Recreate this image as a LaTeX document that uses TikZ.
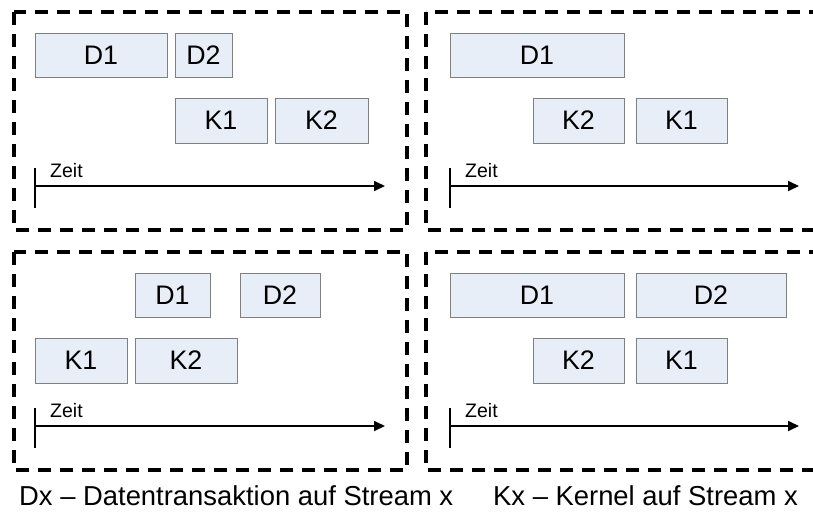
\documentclass[tikz,border=0pt]{standalone}
\usepackage{fontspec}
\setmainfont{Liberation Sans}
\usetikzlibrary{arrows.meta}

\definecolor{blkfill}{RGB}{232,238,247}
\definecolor{blkline}{RGB}{128,128,128}

\tikzset{
  blk/.style={draw=blkline, fill=blkfill, line width=1pt, inner sep=0pt,
              font=\fontsize{26.8}{30}\selectfont},
  frame/.style={draw=black, line width=3.2pt, dash pattern=on 13pt off 9pt},
  timeaxis/.style={line width=1.7pt, -{Triangle[length=11pt,width=10pt]}},
  tick/.style={line width=1.7pt},
  zeit/.style={anchor=base west, inner sep=0pt, font=\fontsize{19.5}{22}\selectfont},
  legend/.style={anchor=base west, inner sep=0pt, font=\fontsize{27.4}{32}\selectfont},
}

\begin{document}
\begin{tikzpicture}[x=1pt, y=-1pt]
\useasboundingbox (0,0) rectangle (813,512);
\clip (0,0) rectangle (813,512);

% dashed panel frames
\draw[frame] (14,12) rectangle (407,230);
\draw[frame] (426,12) rectangle (835,230);
\draw[frame] (14,252) rectangle (407,470);
\draw[frame] (426,252) rectangle (835,470);

% panel 1 (top left)
\node[blk, minimum width=132, minimum height=44] (aD1) at (101,55) {D1};
\node[blk, minimum width=57,  minimum height=44] (aD2) at (203.5,55) {D2};
\node[blk, minimum width=92,  minimum height=45] (aK1) at (221,120.5) {K1};
\node[blk, minimum width=93,  minimum height=45] (aK2) at (321.5,120.5) {K2};
\coordinate (aT1) at (35,168);
\coordinate (aT2) at (35,208);
\coordinate (aA0) at (35,186);
\coordinate (aA1) at (385,186);
\draw[tick] (aT1) -- (aT2);
\draw[timeaxis] (aA0) -- (aA1);
\node[zeit] (aZ) at (50,177.5) {Zeit};

% panel 2 (top right)
\node[blk, minimum width=174, minimum height=44] (bD1) at (537,55) {D1};
\node[blk, minimum width=91,  minimum height=45] (bK2) at (578.5,120.5) {K2};
\node[blk, minimum width=91,  minimum height=45] (bK1) at (681.5,120.5) {K1};
\coordinate (bT1) at (450,168);
\coordinate (bT2) at (450,208);
\coordinate (bA0) at (450,186);
\coordinate (bA1) at (799,186);
\draw[tick] (bT1) -- (bT2);
\draw[timeaxis] (bA0) -- (bA1);
\node[zeit] (bZ) at (465,177.5) {Zeit};

% panel 3 (bottom left)
\node[blk, minimum width=75,  minimum height=44] (cD1) at (172.5,295) {D1};
\node[blk, minimum width=80,  minimum height=44] (cD2) at (280,295) {D2};
\node[blk, minimum width=92,  minimum height=45] (cK1) at (81,360.5) {K1};
\node[blk, minimum width=102, minimum height=45] (cK2) at (186,360.5) {K2};
\coordinate (cT1) at (35,408);
\coordinate (cT2) at (35,448);
\coordinate (cA0) at (35,426);
\coordinate (cA1) at (385,426);
\draw[tick] (cT1) -- (cT2);
\draw[timeaxis] (cA0) -- (cA1);
\node[zeit] (cZ) at (50,417.5) {Zeit};

% panel 4 (bottom right)
\node[blk, minimum width=174, minimum height=44] (dD1) at (537,295) {D1};
\node[blk, minimum width=150, minimum height=44] (dD2) at (711,295) {D2};
\node[blk, minimum width=91,  minimum height=45] (dK2) at (578.5,360.5) {K2};
\node[blk, minimum width=91,  minimum height=45] (dK1) at (681.5,360.5) {K1};
\coordinate (dT1) at (450,408);
\coordinate (dT2) at (450,448);
\coordinate (dA0) at (450,426);
\coordinate (dA1) at (799,426);
\draw[tick] (dT1) -- (dT2);
\draw[timeaxis] (dA0) -- (dA1);
\node[zeit] (dZ) at (465,417.5) {Zeit};

% legend
\node[legend] (legD) at (19,505) {Dx – Datentransaktion auf Stream x};
\node[legend] (legK) at (493,505) {Kx – Kernel auf Stream x};
\end{tikzpicture}
\end{document}
